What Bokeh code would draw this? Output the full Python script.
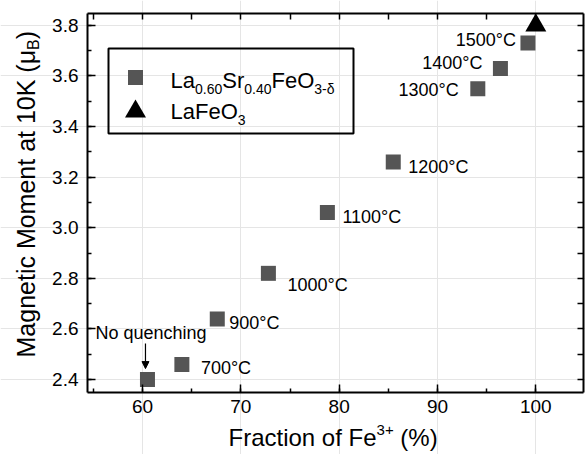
import math
from bokeh.plotting import figure
from bokeh.models import (Range1d, LinearAxis, SingleIntervalTicker, Label,
                          Arrow, NormalHead, BoxAnnotation)
from bokeh.embed import file_html
from bokeh.resources import INLINE

# ---------------- data ----------------
fe3_fraction = [60.5, 64.0, 67.6, 72.8, 78.8, 85.5, 94.1, 96.4, 99.2]
moment = [2.40, 2.46, 2.64, 2.82, 3.06, 3.26, 3.55, 3.63, 3.73]
anneal_labels = ["No quenching", "700°C", "900°C", "1000°C", "1100°C",
                 "1200°C", "1300°C", "1400°C", "1500°C"]
lafeo3_fraction = [100.0]
lafeo3_moment = [3.80]
x_tick_values = [60, 70, 80, 90, 100]
y_tick_values = [2.4, 2.6, 2.8, 3.0, 3.2, 3.4, 3.6, 3.8]

# ---------------- layout ----------------
FONT = "Liberation Sans"
W, H = 585, 454
BL, BR, BT, BB = 87, 2, 13, 62          # plot box inside the canvas
X0, X1 = 54.4, 104.85                   # visible data box
Y0, Y1 = 2.349, 3.847
FW, FH = W - BL - BR, H - BT - BB
DX, DY = (X1 - X0) / FW, (Y1 - Y0) / FH
BASE_FIX = 0.3                          # baseline correction (fraction of font size)

# label offsets in px: (dx, dy, align)
label_offsets = [(-52, 41, "left"), (19, -9, "left"), (12, -10, "left"),
                 (19, -17, "left"), (15, -10, "left"), (15, -10, "left"),
                 (-19, -7, "right"), (-18, 0, "right"), (-12, -2, "right")]

ADV = {'L': 556, 'a': 556, 'S': 667, 'r': 333, 'F': 611, 'e': 556, 'O': 778,
       '.': 278, '-': 333, 'δ': 556, ' ': 278, 'M': 833, 'g': 556, 'n': 556,
       't': 278, 'i': 222, 'c': 500, 'o': 556, 'm': 833, 'K': 667, '(': 333,
       ')': 333, 'μ': 576, 'B': 667, 'f': 278, '%': 889, '+': 584}


def text_w(s, size):
    return sum(ADV.get(c, 556) for c in s) / 1000.0 * size


def page_to_data(px, py):
    return X0 + (px - BL) * DX, Y1 - (py - BT) * DY


# the frame fills the whole canvas; the axes are pinned to the data box
p = figure(width=W, height=H,
           x_range=Range1d(X0 - BL * DX, X1 + BR * DX),
           y_range=Range1d(Y0 - BB * DY, Y1 + BT * DY),
           x_axis_location=None, y_axis_location=None,
           output_backend="svg", toolbar_location=None,
           min_border=0, background_fill_color="white",
           border_fill_color="white", outline_line_color=None)

bottom = LinearAxis(ticker=SingleIntervalTicker(interval=10, num_minor_ticks=2),
                    fixed_location=Y0, bounds=(X0, X1))
left = LinearAxis(ticker=SingleIntervalTicker(interval=0.2, num_minor_ticks=2),
                  fixed_location=X0, bounds=(Y0, Y1))
for ax in (bottom, left):
    ax.axis_line_width = 2
    ax.major_tick_in = 8
    ax.major_tick_out = 0
    ax.minor_tick_in = 4
    ax.minor_tick_out = 0
    ax.major_tick_line_width = 1.5
    ax.minor_tick_line_width = 1.5
    ax.major_label_text_font = FONT
    ax.major_label_text_font_size = "19px"
    ax.major_label_text_color = "black"
bottom.major_label_standoff = 7
left.major_label_standoff = 9
bottom.major_label_overrides = {v: str(v) for v in x_tick_values}
left.major_label_overrides = {v: f"{v:.1f}" for v in y_tick_values}

top = LinearAxis(ticker=SingleIntervalTicker(interval=5, num_minor_ticks=0),
                 fixed_location=Y1, bounds=(X0, X1))
right = LinearAxis(ticker=SingleIntervalTicker(interval=0.1, num_minor_ticks=0),
                   fixed_location=X1, bounds=(Y0, Y1))
for ax in (top, right):
    ax.axis_line_width = 2
    ax.major_tick_in = 6
    ax.major_tick_out = 0
    ax.minor_tick_in = 0
    ax.minor_tick_out = 0
    ax.major_tick_line_width = 1.5
    ax.major_label_text_color = None
    ax.major_label_standoff = 0

p.add_layout(bottom, "below")
p.add_layout(left, "left")
p.add_layout(top, "above")
p.add_layout(right, "right")

# ---------------- marks ----------------
p.scatter(fe3_fraction, moment, marker="square", size=15,
          fill_color="#555555", line_color=None)
p.scatter(lafeo3_fraction, lafeo3_moment, marker="triangle", size=21,
          fill_color="black", line_color=None)

for x, y, t, (dx, dy, al) in zip(fe3_fraction, moment, anneal_labels, label_offsets):
    p.add_layout(Label(x=x, y=y, x_offset=dx, y_offset=dy + BASE_FIX * 18, text=t,
                       text_font=FONT, text_font_size="18px", text_align=al,
                       text_baseline="alphabetic", text_color="black"))

p.add_layout(Arrow(end=NormalHead(size=7, fill_color="black", line_color="black"),
                   x_start=fe3_fraction[0] - 2 * DX, y_start=moment[0] + 36 * DY,
                   x_end=fe3_fraction[0] - 2 * DX, y_end=moment[0] + 11 * DY,
                   line_width=1.2, line_color="black"))


def rich(px, py, pieces, angle=0.0):
    ax_, ay_ = page_to_data(px, py)
    off = 0.0
    for txt, size, shift in pieces:
        lead = len(txt) - len(txt.lstrip(" "))
        off += text_w(" " * lead, size)
        txt = txt.lstrip(" ")
        up = shift + BASE_FIX * size
        if angle == 0:
            xo, yo = off, up
        else:
            xo, yo = -up, off
        p.add_layout(Label(x=ax_, y=ay_, x_offset=xo, y_offset=yo, text=txt,
                           text_font=FONT, text_font_size=f"{size}px",
                           angle=angle, text_align="left",
                           text_baseline="alphabetic", text_color="black"))
        off += text_w(txt, size)


# axis titles
rich(228, 444, [("Fraction of Fe", 24, 0), ("3+", 15, 10), (" (%)", 24, 0)])
rich(33, 357, [("Magnetic Moment at 10K (μ", 25, 0), ("B", 16, -5), (")", 25, 0)],
     angle=math.pi / 2)

# legend
l, t_ = page_to_data(108, 48)
r, b = page_to_data(353, 133)
p.add_layout(BoxAnnotation(left=l, right=r, top=t_, bottom=b, fill_color=None,
                           line_color="black", line_alpha=1.0, line_width=2))
sx, sy1 = page_to_data(135, 77)
_, sy2 = page_to_data(135, 111)
p.scatter([sx], [sy1], marker="square", size=15, fill_color="#555555", line_color=None)
p.scatter([sx], [sy2], marker="triangle", size=21, fill_color="black", line_color=None)
rich(170, 87, [("La", 22, 0), ("0.60", 14, -6), ("Sr", 22, 0), ("0.40", 14, -6),
               ("FeO", 22, 0), ("3-δ", 14, -6)])
rich(170, 118, [("LaFeO", 22, 0), ("3", 14, -6)])

open("out.html", "w").write(file_html(p, INLINE))
